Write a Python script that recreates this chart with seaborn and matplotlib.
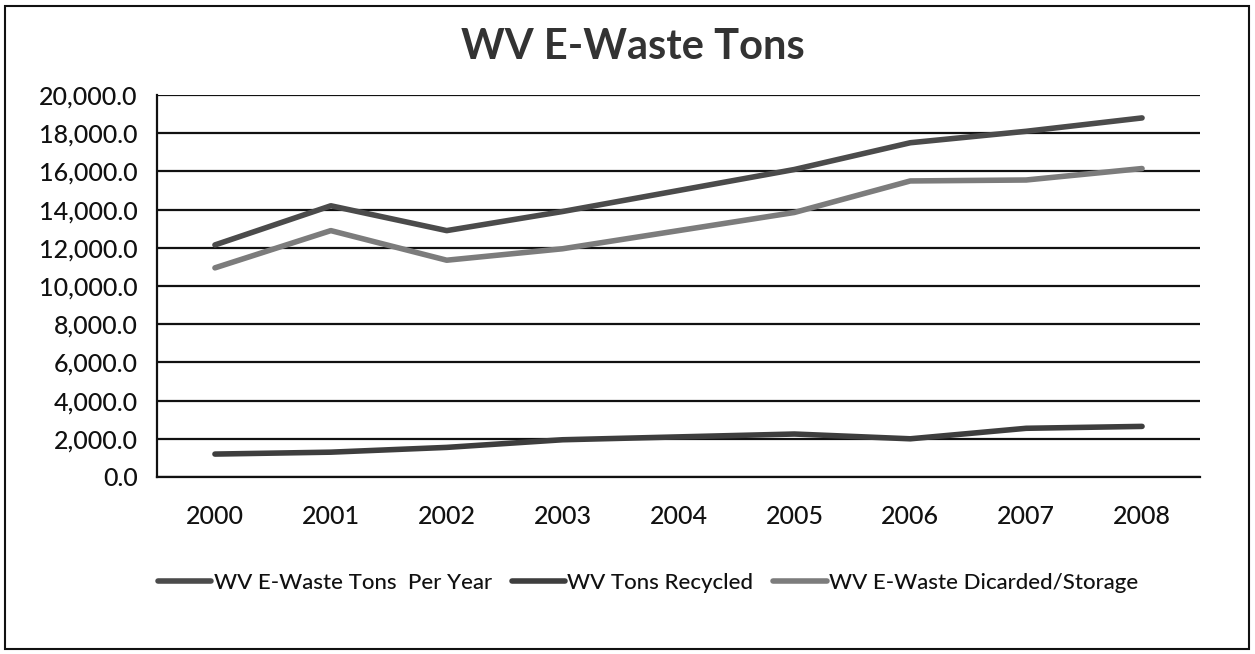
import matplotlib
matplotlib.use("Agg")
import matplotlib.pyplot as plt
import seaborn as sns
import pandas as pd
from matplotlib.patches import Rectangle
from matplotlib.ticker import FuncFormatter, MultipleLocator

years = ["2000", "2001", "2002", "2003", "2004", "2005", "2006", "2007", "2008"]
tons_per_year = [12150, 14200, 12900, 13900, 15000, 16100, 17500, 18100, 18800]
tons_recycled = [1200, 1300, 1550, 1950, 2100, 2250, 2000, 2550, 2650]
tons_discarded = [10950, 12900, 11350, 11950, 12900, 13850, 15500, 15550, 16150]
series_names = ["WV E-Waste Tons  Per Year", "WV Tons Recycled", "WV E-Waste Dicarded/Storage"]

df = pd.DataFrame({
    "Year": years * 3,
    "Tons": tons_per_year + tons_recycled + tons_discarded,
    "Series": [series_names[0]] * 9 + [series_names[1]] * 9 + [series_names[2]] * 9,
})

sns.set_theme(style="white")
plt.rcParams["font.family"] = ["Lato", "DejaVu Sans"]

W, H = 1255, 654
fig = plt.figure(figsize=(W / 100, H / 100), dpi=100)
ax = fig.add_axes([157 / W, 1 - 477 / H, (1200 - 157) / W, (477 - 95) / H])

palette = {series_names[0]: "#4b4b4b", series_names[1]: "#3e3e3e", series_names[2]: "#7c7c7c"}
sns.lineplot(data=df, x="Year", y="Tons", hue="Series", palette=palette, linewidth=4.0,
             sort=False, ax=ax, solid_capstyle="round", zorder=3)

ax.set_xlim(-0.5, 8.5)
ax.set_ylim(0, 20000)
ax.yaxis.set_major_locator(MultipleLocator(2000))
ax.yaxis.set_major_formatter(FuncFormatter(lambda v, p: f"{v:,.1f}"))
ax.grid(axis="y", color="#111111", linewidth=1.6, zorder=1)
ax.grid(axis="x", visible=False)
ax.set_xlabel("")
ax.set_ylabel("")
for s in ["top", "right"]:
    ax.spines[s].set_visible(False)
for s in ["left", "bottom"]:
    ax.spines[s].set_color("#111111")
    ax.spines[s].set_linewidth(1.6)
ax.tick_params(axis="both", length=0, labelsize=18, colors="#111111", pad=14)
ax.tick_params(axis="x", pad=20)
for lab in ax.get_xticklabels() + ax.get_yticklabels():
    lab.set_fontweight("medium")

handles, labels = ax.get_legend_handles_labels()
leg = ax.legend(handles, labels, loc="center", bbox_to_anchor=(648 / W, 1 - 583 / H),
                bbox_transform=fig.transFigure, ncol=3, frameon=False, fontsize=16,
                handlelength=2.4, handletextpad=0.1, columnspacing=0.9)
for t in leg.get_texts():
    t.set_color("#111111")
    t.set_fontweight("medium")

fig.text(633 / W, 1 - 47 / H, "WV E-Waste Tons", ha="center", va="center",
         fontsize=30, fontweight="bold", color="#333333")

fig.patches.append(Rectangle((5 / W, 5 / H), (1249 - 5) / W, (648 - 5) / H,
                             transform=fig.transFigure, fill=False,
                             edgecolor="#111111", linewidth=1.5))

fig.savefig("out.png", dpi=100)
